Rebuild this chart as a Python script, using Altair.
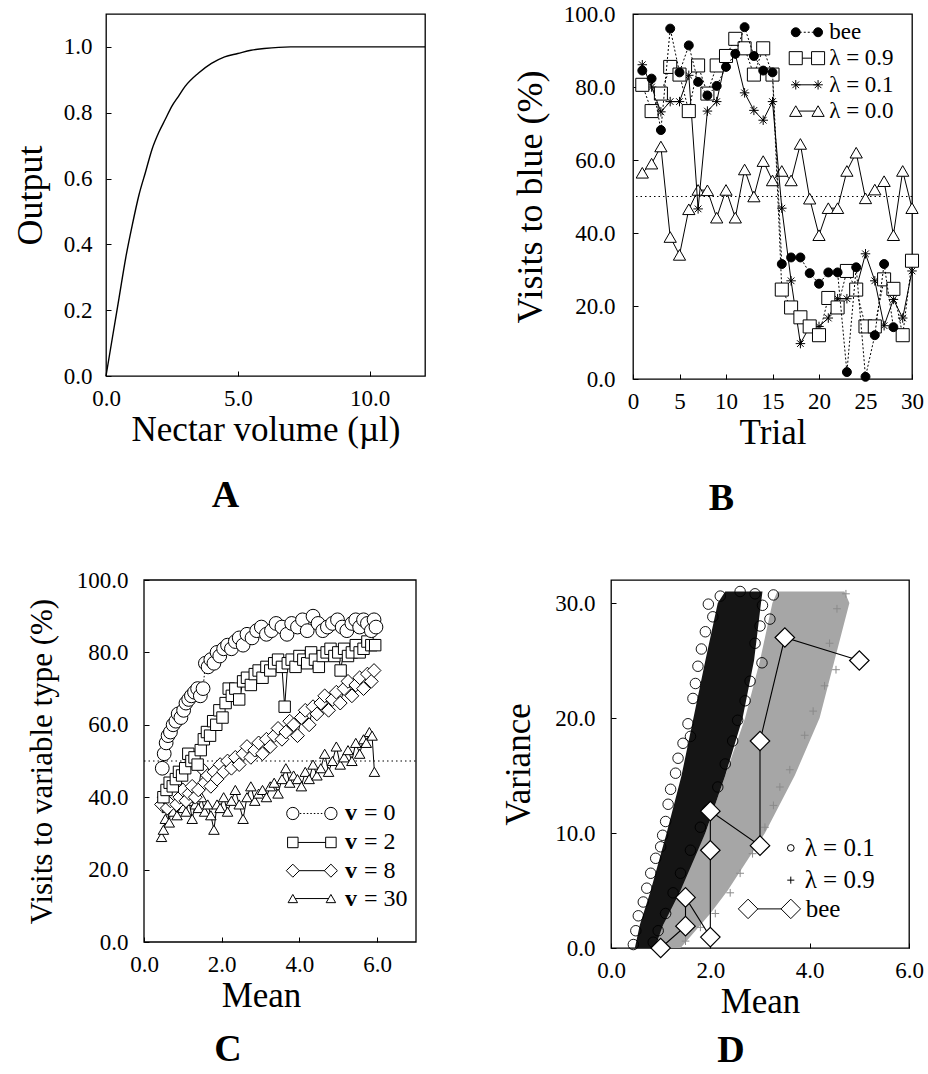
import altair as alt
import pandas as pd

FONT = "Liberation Serif"
BLACK = "black"

# ---------------- Panel A : output vs nectar volume ----------------
nectar_ul = [0.0, 0.25, 0.5, 0.75, 1.0, 1.25, 1.5, 1.75, 2.0, 2.25, 2.5, 2.75,
             3.0, 3.5, 4.0, 4.5, 5.0, 5.5, 6.0, 7.0, 8.0, 10.0, 12.1]
output_val = [0.0, 0.12, 0.24, 0.36, 0.46, 0.55, 0.62, 0.69, 0.74, 0.78, 0.82, 0.85,
              0.88, 0.92, 0.95, 0.97, 0.98, 0.99, 0.995, 1.0, 1.0, 1.0, 1.0]

# ---------------- Panel B : visits to blue per trial ----------------
trial = list(range(1, 31))
bee_pct = [84.5, 82.3, 68.2, 96.0, 84.0, 91.4, 81.4, 77.7, 80.3, 85.5, 89.1, 96.4,
           88.5, 84.5, 84.0, 31.5, 33.3, 33.3, 29.0, 26.1, 29.2, 29.2, 1.9, 30.6,
           0.6, 12.0, 31.5, 14.2]
lam09_pct = [80.6, 73.4, 78.2, 85.5, 83.4, 73.4, 85.9, 78.2, 85.9, 88.5, 93.2, 90.6,
             83.4, 90.6, 83.4, 24.5, 19.6, 16.9, 14.4, 12.0, 22.2, 19.6, 29.6, 24.5,
             14.4, 14.4, 27.3, 24.7, 12.0, 32.4]
lam01_pct = [86.1, 80.0, 73.2, 76.0, 76.0, 83.2, 46.6, 73.4, 76.0, 88.0, 89.0, 78.4,
             73.6, 70.9, 76.0, 46.8, 26.9, 9.7, 14.4, 14.4, 16.7, 22.0, 22.0, 24.7,
             34.3, 26.9, 14.6, 21.8, 16.7, 29.6]
lam00_pct = [56.5, 59.0, 63.7, 38.9, 34.0, 46.5, 51.8, 51.7, 44.2, 51.8, 44.2, 57.4,
             50.0, 59.7, 54.4, 57.0, 54.4, 64.4, 49.4, 39.4, 46.8, 46.8, 57.0, 62.0,
             49.5, 51.9, 54.2, 39.4, 57.0, 46.8]
legend_b_labels = ["bee", "λ = 0.9", "λ = 0.1", "λ = 0.0"]

# ---------------- Panel C : visits to variable type vs mean ----------------
v0_mean = [0.47, 0.52, 0.57, 0.62, 0.68, 0.75, 0.82, 0.88, 0.95, 1.02, 1.08, 1.15,
           1.22, 1.30, 1.38, 1.45, 1.52, 1.58, 1.65, 1.72, 1.80, 1.88, 1.95, 2.05,
           2.15, 2.25, 2.35, 2.45, 2.55, 2.65, 2.78, 2.90, 3.02, 3.15, 3.28, 3.40,
           3.55, 3.68, 3.80, 3.95, 4.08, 4.20, 4.35, 4.48, 4.60, 4.72, 4.85, 4.98,
           5.10, 5.22, 5.35, 5.45, 5.55, 5.65, 5.75, 5.85, 5.92, 5.97]
v0_pct = [48, 52, 55, 57, 58, 60, 61, 63, 62, 64, 66, 67, 68, 69, 70, 68, 70, 77,
          76, 78, 77, 80, 79, 81, 82, 81, 83, 84, 82, 85, 84, 86, 87, 85, 86, 88,
          87, 85, 88, 87, 89, 86, 90, 88, 86, 87, 88, 89, 87, 86, 88, 89, 87, 89,
          88, 86, 89, 87]
v2_mean = [0.50, 0.58, 0.66, 0.74, 0.82, 0.90, 0.98, 1.06, 1.14, 1.22, 1.30, 1.38,
           1.46, 1.54, 1.62, 1.70, 1.78, 1.86, 1.94, 2.02, 2.10, 2.18, 2.26, 2.35,
           2.45, 2.55, 2.65, 2.75, 2.85, 2.95, 3.05, 3.15, 3.25, 3.35, 3.45, 3.55,
           3.62, 3.70, 3.80, 3.90, 4.00, 4.10, 4.20, 4.30, 4.40, 4.50, 4.60, 4.70,
           4.80, 4.90, 5.00, 5.06, 5.15, 5.25, 5.35, 5.45, 5.55, 5.65, 5.75, 5.85, 5.95]
v2_pct = [40, 42, 44, 43, 45, 47, 46, 48, 52, 50, 51, 49, 53, 56, 58, 57, 61, 60,
          64, 62, 66, 70, 68, 70, 67, 72, 73, 71, 74, 75, 73, 76, 75, 77, 78, 76,
          65, 77, 78, 76, 79, 78, 77, 80, 78, 76, 79, 80, 81, 79, 80, 75, 81, 79,
          80, 82, 80, 81, 83, 82, 82]
v8_mean = [0.45, 0.52, 0.60, 0.68, 0.76, 0.84, 0.92, 1.00, 1.08, 1.16, 1.24, 1.32,
           1.40, 1.48, 1.56, 1.64, 1.72, 1.80, 1.88, 1.96, 2.05, 2.15, 2.25, 2.35,
           2.45, 2.55, 2.65, 2.75, 2.85, 2.95, 3.05, 3.15, 3.25, 3.35, 3.45, 3.55,
           3.65, 3.75, 3.85, 3.95, 4.05, 4.15, 4.25, 4.35, 4.45, 4.55, 4.65, 4.75,
           4.85, 4.95, 5.05, 5.15, 5.25, 5.35, 5.45, 5.55, 5.65, 5.75, 5.85, 5.92]
v8_pct = [38, 40, 37, 39, 41, 38, 40, 42, 39, 41, 43, 40, 42, 48, 44, 46, 43, 47,
          45, 49, 47, 50, 48, 51, 49, 52, 54, 51, 53, 55, 52, 56, 54, 57, 59, 56,
          58, 61, 60, 57, 62, 64, 60, 65, 63, 66, 68, 64, 67, 69, 66, 70, 72, 68,
          71, 73, 70, 74, 72, 75]
v30_mean = [0.45, 0.50, 0.55, 0.60, 0.65, 0.70, 0.75, 0.80, 0.85, 0.90, 0.95, 1.00,
            1.08, 1.16, 1.24, 1.32, 1.40, 1.48, 1.56, 1.64, 1.72, 1.80, 1.88, 1.96,
            2.05, 2.15, 2.25, 2.35, 2.45, 2.55, 2.65, 2.75, 2.85, 2.95, 3.05, 3.15,
            3.25, 3.35, 3.45, 3.55, 3.65, 3.75, 3.85, 3.95, 4.05, 4.15, 4.25, 4.35,
            4.45, 4.55, 4.65, 4.75, 4.85, 4.95, 5.05, 5.15, 5.25, 5.35, 5.45, 5.55,
            5.65, 5.72, 5.80, 5.87, 5.93]
v30_pct = [29, 31, 34, 37, 33, 38, 36, 39, 35, 38, 40, 37, 36, 39, 34, 38, 37, 40,
           36, 38, 35, 31, 38, 37, 40, 36, 39, 42, 38, 34, 40, 43, 39, 41, 42, 40,
           43, 44, 41, 45, 48, 44, 46, 45, 43, 47, 45, 49, 46, 48, 52, 47, 50, 54,
           49, 51, 53, 50, 55, 52, 56, 55, 58, 57, 47]
legend_c_values = ["0", "2", "8", "30"]

# ---------------- Panel D : variance vs mean ----------------
dark_var = [0, 2, 5, 10, 15, 20, 25, 30, 31]
dark_lo = [0.48, 0.58, 0.80, 1.12, 1.42, 1.66, 1.90, 2.15, 2.30]
dark_hi = [0.88, 1.05, 1.40, 1.90, 2.30, 2.65, 2.88, 3.02, 3.05]
gray_var = [0, 3, 5, 10, 15, 20, 25, 30, 31]
gray_lo = [0.85, 1.15, 1.35, 1.90, 2.30, 2.70, 3.00, 3.25, 3.35]
gray_hi = [1.40, 2.00, 2.35, 3.10, 3.70, 4.20, 4.50, 4.80, 4.70]
lam01_mean = [0.45, 0.50, 0.55, 0.65, 0.72, 0.80, 0.90, 1.04, 1.00, 1.10, 1.15, 1.20,
              1.30, 1.35, 1.45, 1.60, 1.55, 1.65, 1.70, 1.75, 1.82, 1.90, 1.96, 2.20,
              2.05, 0.85, 0.95, 1.10, 1.25, 1.40, 1.60, 1.80, 1.95, 2.15, 2.30, 2.45,
              2.55, 2.70, 2.80, 3.04, 2.90, 3.00, 3.20, 3.05, 3.27, 2.90, 2.60]
lam01_var = [0.3, 1.5, 2.8, 4.0, 5.2, 6.5, 7.8, 9.8, 8.8, 11.0, 12.5, 13.8, 15.2,
             16.5, 17.8, 18.4, 19.5, 21.7, 23.0, 24.5, 26.0, 27.5, 29.9, 30.6, 28.8,
             0.5, 1.5, 3.0, 4.8, 6.5, 8.5, 10.5, 12.0, 14.0, 16.0, 18.0, 19.8, 21.5,
             23.2, 24.8, 26.5, 28.0, 28.6, 29.8, 30.7, 30.8, 31.0]
lam09_mean = [4.73, 4.55, 4.53, 4.40, 4.30, 4.07, 3.90, 3.60, 3.27, 3.40, 3.10, 2.85,
              2.60, 2.40, 2.10, 1.80, 1.50]
lam09_var = [30.8, 29.5, 24.2, 26.5, 22.8, 20.6, 18.5, 15.5, 12.4, 14.0, 10.5, 8.2,
             6.5, 4.8, 3.0, 1.8, 0.6]
bee_mean = [1.0, 1.5, 1.5, 2.0, 2.0, 2.0, 3.0, 3.0, 3.5, 5.0]
bee_var = [0.0, 1.9, 4.4, 0.95, 8.5, 11.9, 8.9, 18.0, 27.0, 25.0]

STAR = "M-1,0L1,0M0,-1L0,1M-0.7,-0.7L0.7,0.7M-0.7,0.7L0.7,-0.7"
PLUS = "M-1,0L1,0M0,-1L0,1"
TICK_IN = alt.ExprRef(expr="-5")   # ticks drawn inside the frame


def frame(xs, ys):
    return pd.DataFrame({"x": xs, "y": ys, "i": list(range(len(xs)))})


def points(df, X, Y, shape, size, fill=None, stroke=BLACK, sw=1.0):
    if fill is None:
        mk = alt.Chart(df).mark_point(shape=shape, size=size, filled=False,
                                      stroke=stroke, strokeWidth=sw, opacity=1)
    else:
        mk = alt.Chart(df).mark_point(shape=shape, size=size, filled=True, fill=fill,
                                      stroke=stroke, strokeWidth=sw, opacity=1)
    return mk.encode(x=X, y=Y)


def line(df, X, Y, dash=None, lw=1.0, color=BLACK):
    kw = dict(color=color, strokeWidth=lw)
    if dash:
        kw["strokeDash"] = dash
    return alt.Chart(df).mark_line(**kw).encode(x=X, y=Y, order="i:Q")


def text(df, X, Y, size, bold=False, dx=0):
    return alt.Chart(df).mark_text(align="left", baseline="middle", font=FONT,
                                   fontSize=size, dx=dx,
                                   fontWeight="bold" if bold else "normal",
                                   color=BLACK).encode(x=X, y=Y, text="t:N")


def spacer(px):
    return alt.Chart(pd.DataFrame({"s": [0]})).mark_rule(opacity=0, strokeOpacity=0).encode(
        x=alt.value(-px), x2=alt.value(-px + 1), y=alt.value(5))


def letter(t, dx, offset):
    return alt.TitleParams(text=t, orient="bottom", anchor="middle", frame="group",
                           font=FONT, fontSize=38, fontWeight="bold", color=BLACK,
                           offset=offset, dx=dx)


def mk_axis(title, values, fmt, tsize=35, lpad=6, tpad=8, offset=0):
    return alt.Axis(title=title, values=values, format=fmt, titleFontSize=tsize,
                    labelPadding=lpad + 10, titlePadding=tpad, offset=offset,
                    tickSize=TICK_IN)


# ---------------- build Panel A ----------------
XA = alt.X("x:Q", scale=alt.Scale(domain=[0, 12.1], nice=False, zero=False),
           axis=mk_axis("Nectar volume (µl)", [0, 5, 10], ".1f", lpad=6, tpad=2))
YA = alt.Y("y:Q", scale=alt.Scale(domain=[0, 1.1], nice=False, zero=False),
           axis=mk_axis("Output", [0, 0.2, 0.4, 0.6, 0.8, 1.0], ".1f", tsize=36, lpad=9, tpad=14))
dfA = frame(nectar_ul, output_val)
panelA = alt.layer(
    spacer(100),
    alt.Chart(dfA).mark_line(color=BLACK, strokeWidth=1.4, interpolate="monotone").encode(x=XA, y=YA),
).properties(width=319, height=362, title=letter("A", -40, 30))

# ---------------- build Panel B ----------------
XB = alt.X("x:Q", scale=alt.Scale(domain=[0, 30], nice=False, zero=False),
           axis=mk_axis("Trial", [0, 5, 10, 15, 20, 25, 30], "d", lpad=6, tpad=2))
YB = alt.Y("y:Q", scale=alt.Scale(domain=[0, 100], nice=False, zero=False),
           axis=mk_axis("Visits to blue (%)", [0, 20, 40, 60, 80, 100], ".1f", tsize=36, lpad=13, tpad=14))
df_bee = frame(trial[:len(bee_pct)], bee_pct)
df_l9 = frame(trial, lam09_pct)
df_l1 = frame(trial, lam01_pct)
df_l0 = frame(trial, lam00_pct)
ref50 = pd.DataFrame({"y": [50]})

leg_b_y = [95.0, 87.9, 80.6, 73.4]
LB_X1, LB_X2, LB_XT = 17.5, 19.9, 21.1
leg_b_styles = [
    dict(shape="circle", size=80, fill=BLACK, dash=[2, 2]),
    dict(shape="square", size=170, fill="white", dash=None),
    dict(shape=STAR, size=90, fill=None, dash=None),
    dict(shape="triangle-up", size=150, fill="white", dash=None),
]
leg_b_layers = []
for lab, yy, st in zip(legend_b_labels, leg_b_y, leg_b_styles):
    seg = pd.DataFrame({"x": [LB_X1, LB_X2], "y": [yy, yy], "i": [0, 1]})
    leg_b_layers.append(line(seg, XB, YB, dash=st["dash"]))
    leg_b_layers.append(points(seg, XB, YB, st["shape"], st["size"], st["fill"]))
    leg_b_layers.append(text(pd.DataFrame({"x": [LB_XT], "y": [yy], "t": [lab]}), XB, YB, 23))

panelB = alt.layer(
    alt.Chart(ref50).mark_rule(color=BLACK, strokeWidth=1, strokeDash=[1.5, 3]).encode(y=YB),
    line(df_l0, XB, YB), points(df_l0, XB, YB, "triangle-up", 150, "white"),
    line(df_l1, XB, YB), points(df_l1, XB, YB, STAR, 90, None),
    line(df_l9, XB, YB, dash=[2, 2]), points(df_l9, XB, YB, "square", 170, "white"),
    line(df_bee, XB, YB, dash=[2, 2]), points(df_bee, XB, YB, "circle", 80, BLACK),
    *leg_b_layers,
).properties(width=279, height=365, title=letter("B", -51, 30))

# ---------------- build Panel C ----------------
# plot area spans from the left edge of panel A; the framed data box is x in [0, 7]
C_XMIN = -0.978
XC = alt.X("x:Q", scale=alt.Scale(domain=[C_XMIN, 7], nice=False, zero=False),
           axis=mk_axis("Mean", [0, 2, 4, 6], ".1f", lpad=6, tpad=2))
YC = alt.Y("y:Q", scale=alt.Scale(domain=[0, 100], nice=False, zero=False),
           axis=mk_axis("Visits to variable type (%)", [0, 20, 40, 60, 80, 100], ".1f",
                        tsize=31, lpad=11, tpad=18, offset=-38))
dfc0 = frame(v0_mean, v0_pct)
dfc2 = frame(v2_mean, v2_pct)
dfc8 = frame(v8_mean, v8_pct)
dfc30 = frame(v30_mean, v30_pct)
c_box = pd.DataFrame({"x": [0.0], "x2": [7.0], "y": [0.0], "y2": [100.0]})
c_ref = pd.DataFrame({"x": [0.0], "x2": [7.0], "y": [50.0]})

leg_c_y = [35.5, 27.5, 19.7, 12.0]
LC_X1, LC_X2, LC_XT = 3.83, 4.81, 5.17
leg_c_styles = [
    dict(shape="circle", size=150, dash=[1.5, 2]),
    dict(shape="square", size=110, dash=None),
    dict(shape="diamond", size=170, dash=None),
    dict(shape="triangle-up", size=90, dash=None),
]
leg_c_layers = []
for val, yy, st in zip(legend_c_values, leg_c_y, leg_c_styles):
    seg = pd.DataFrame({"x": [LC_X1, LC_X2], "y": [yy, yy], "i": [0, 1]})
    leg_c_layers.append(line(seg, XC, YC, dash=st["dash"]))
    leg_c_layers.append(points(seg, XC, YC, st["shape"], st["size"], "white"))
    leg_c_layers.append(text(pd.DataFrame({"x": [LC_XT], "y": [yy], "t": ["v"]}), XC, YC, 24, bold=True))
    leg_c_layers.append(text(pd.DataFrame({"x": [LC_XT], "y": [yy], "t": ["= " + val]}), XC, YC, 24, dx=19))

panelC = alt.layer(
    alt.Chart(c_box).mark_rect(fillOpacity=0, stroke=BLACK, strokeWidth=1.3).encode(
        x=XC, x2=alt.X2("x2:Q"), y=YC, y2=alt.Y2("y2:Q")),
    alt.Chart(c_ref).mark_rule(color=BLACK, strokeWidth=1, strokeDash=[1.5, 3]).encode(
        x=XC, x2=alt.X2("x2:Q"), y=YC),
    line(dfc30, XC, YC), points(dfc30, XC, YC, "triangle-up", 110, "white"),
    line(dfc8, XC, YC), points(dfc8, XC, YC, "diamond", 190, "white"),
    line(dfc2, XC, YC), points(dfc2, XC, YC, "square", 130, "white"),
    line(dfc0, XC, YC, dash=[1.5, 2]), points(dfc0, XC, YC, "circle", 190, "white"),
    *leg_c_layers,
).properties(width=310, height=362, title=letter("C", -33, 18),
             view=alt.ViewBackground(stroke="transparent"))

# ---------------- build Panel D ----------------
XD = alt.X("x:Q", scale=alt.Scale(domain=[0, 6], nice=False, zero=False),
           axis=mk_axis("Mean", [0, 2, 4, 6], ".1f", lpad=6, tpad=2))
YD = alt.Y("y:Q", scale=alt.Scale(domain=[0, 32], nice=False, zero=False),
           axis=mk_axis("Variance", [0, 10, 20, 30], ".1f", tsize=35, lpad=11, tpad=18))
df_dark = pd.DataFrame({"y": dark_var, "x": dark_lo, "x2": dark_hi})
df_gray = pd.DataFrame({"y": gray_var, "x": gray_lo, "x2": gray_hi})
df_c01 = frame(lam01_mean, lam01_var)
df_p09 = frame(lam09_mean, lam09_var)
df_beeD = frame(bee_mean, bee_var)

leg_d = [
    ("λ = 0.1", 8.7), ("λ = 0.9", 5.9), ("bee", 3.4)
]
LD_SYM, LD_XT, LD_BEE1, LD_BEET = 3.62, 3.90, 2.76, 3.92
seg_bee = pd.DataFrame({"x": [LD_BEE1, LD_SYM], "y": [leg_d[2][1]] * 2, "i": [0, 1]})
leg_d_layers = [
    points(pd.DataFrame({"x": [LD_SYM], "y": [leg_d[0][1]]}), XD, YD, "circle", 45, "white"),
    text(pd.DataFrame({"x": [LD_XT], "y": [leg_d[0][1]], "t": [leg_d[0][0]]}), XD, YD, 25),
    points(pd.DataFrame({"x": [LD_SYM], "y": [leg_d[1][1]]}), XD, YD, PLUS, 50, None),
    text(pd.DataFrame({"x": [LD_XT], "y": [leg_d[1][1]], "t": [leg_d[1][0]]}), XD, YD, 25),
    line(seg_bee, XD, YD),
    points(seg_bee, XD, YD, "diamond", 380, "white"),
    text(pd.DataFrame({"x": [LD_BEET], "y": [leg_d[2][1]], "t": [leg_d[2][0]]}), XD, YD, 25),
]

panelD = alt.layer(
    alt.Chart(df_gray).mark_area(orient="horizontal", color="#a6a6a6", opacity=1).encode(
        y=YD, x=XD, x2=alt.X2("x2:Q")),
    points(df_p09, XD, YD, PLUS, 60, None, stroke="#8a8a8a"),
    alt.Chart(df_dark).mark_area(orient="horizontal", color="#151515", opacity=1).encode(
        y=YD, x=XD, x2=alt.X2("x2:Q")),
    points(df_c01, XD, YD, "circle", 110, None, sw=0.9),
    line(df_beeD, XD, YD, lw=1.1),
    points(df_beeD, XD, YD, "diamond", 380, "white", sw=1.2),
    *leg_d_layers,
).properties(width=298, height=368, title=letter("D", -29, 13))

row1 = alt.hconcat(panelA, panelB, spacing=208, bounds="flush")
row2 = alt.hconcat(panelC, panelD, spacing=195, bounds="flush")

chart = alt.vconcat(row1, row2, spacing=49).configure_view(
    stroke=BLACK, strokeWidth=1.3
).configure_axis(
    grid=False, domain=False, ticks=True, tickColor=BLACK, tickWidth=1,
    labelFont=FONT, labelFontSize=23, labelColor=BLACK, labelFlush=False, labelOverlap=False,
    titleFont=FONT, titleFontWeight="normal", titleColor=BLACK
).properties(background="white", padding={"left": 5, "top": 2, "right": 0, "bottom": 0})

chart.save("out.html", embed_options={"renderer": "svg", "actions": False})
